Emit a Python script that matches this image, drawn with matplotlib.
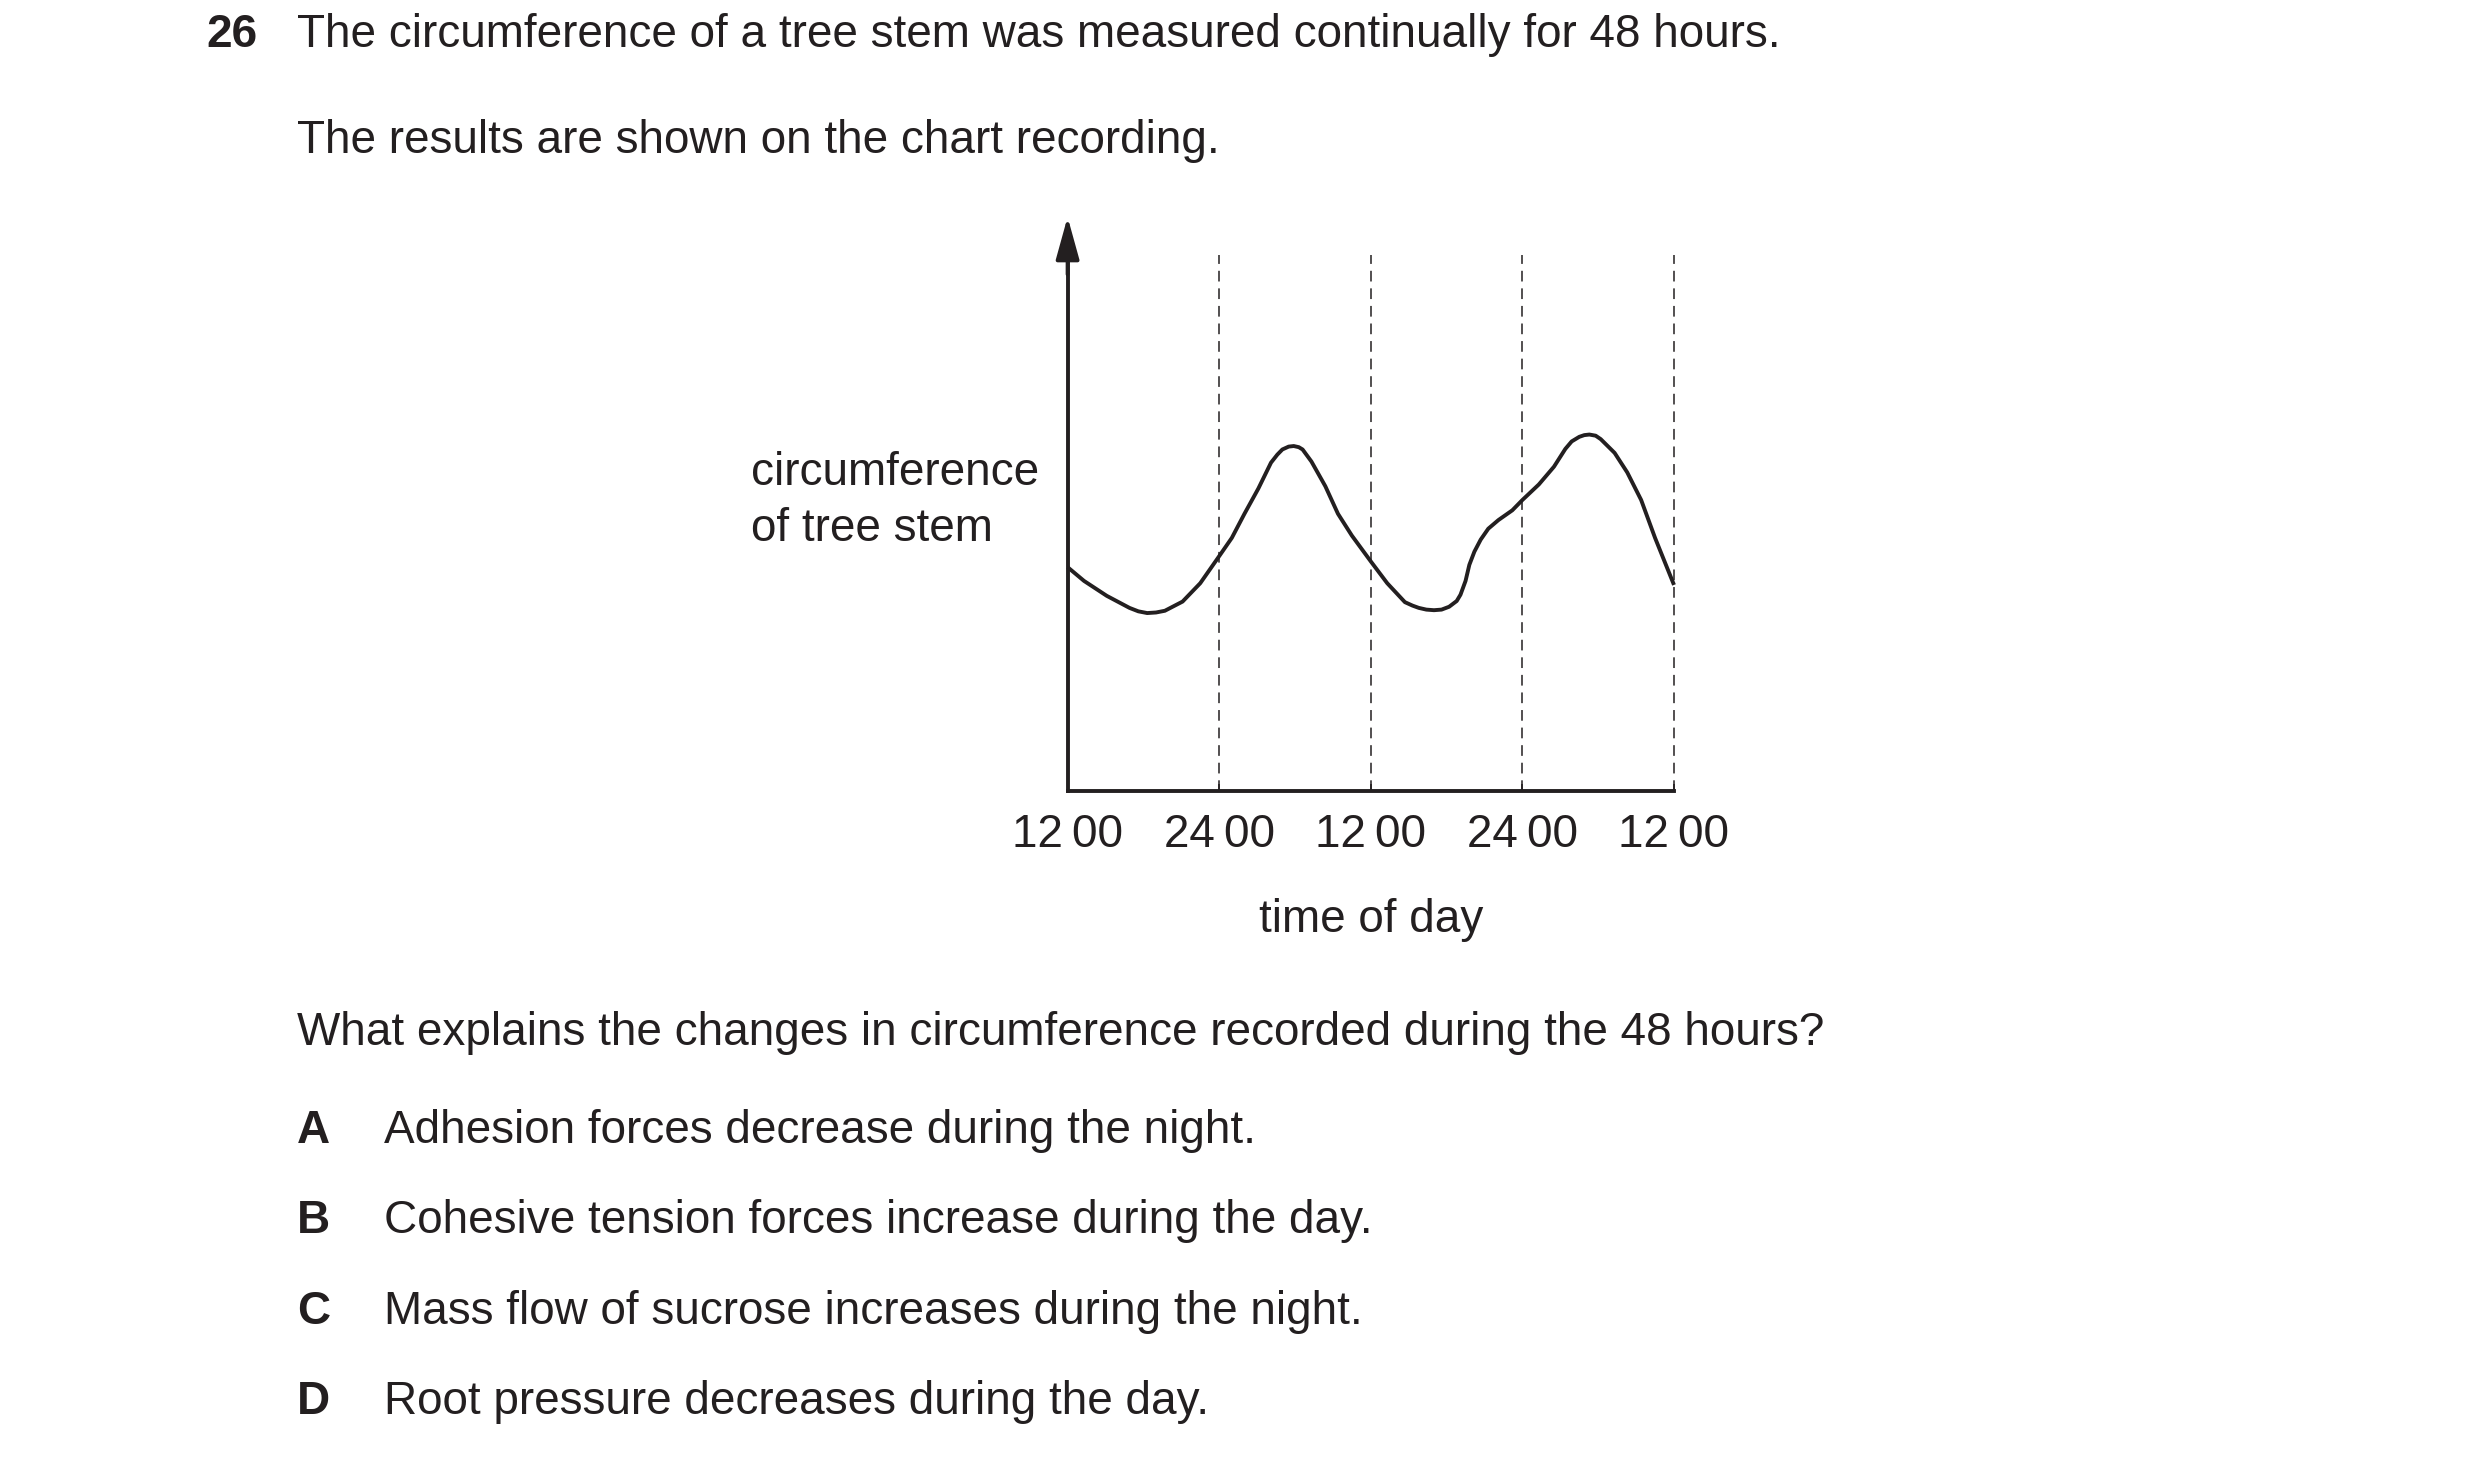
import matplotlib.pyplot as plt

plt.rcParams['font.family'] = ['Liberation Sans', 'DejaVu Sans']

W, H = 2480, 1461
INK = '#231f20'

# chart recording (hours from the first 12 00, arbitrary units)
hours = [0.0, 1.3, 3.1, 4.9, 5.6, 6.3, 7.0, 7.7, 9.1, 10.5, 11.9, 13.0, 14.0,
         15.1, 16.1, 16.6, 17.0, 17.5, 17.9, 18.3, 18.6, 19.3, 20.4, 21.4, 22.5,
         24.0, 25.3, 26.7, 27.3, 27.8, 28.4, 29.0, 29.6, 30.2, 30.8, 31.1, 31.3,
         31.5, 31.8, 32.2, 32.7, 33.3, 34.1, 35.2, 36.0, 37.3, 38.5, 39.4, 39.9,
         40.5, 40.9, 41.3, 41.8, 42.2, 43.3, 44.3, 45.4, 46.5, 48.0]
circumference = [39.0, 36.6, 34.0, 31.9, 31.3, 31.0, 31.1, 31.4, 33.0, 36.2,
                 40.6, 44.1, 48.3, 52.7, 57.2, 58.6, 59.5, 60.0, 60.1, 59.9,
                 59.5, 57.4, 53.1, 48.3, 44.5, 40.0, 36.2, 32.9, 32.3, 31.9,
                 31.6, 31.5, 31.6, 32.1, 33.1, 34.2, 35.4, 36.6, 39.4, 41.7,
                 43.8, 45.7, 47.2, 48.9, 50.7, 53.4, 56.5, 59.6, 60.9, 61.7,
                 62.0, 62.1, 61.9, 61.3, 58.9, 55.5, 50.7, 44.1, 35.9]

tick_hours = [0, 12, 24, 36, 48]
tick_labels = ['12\u200900', '24\u200900', '12\u200900', '24\u200900', '12\u200900']
midnight_noon = [12, 24, 36, 48]

question = 'The circumference of a tree stem was measured continually for 48 hours.'
intro = 'The results are shown on the chart recording.'
ask = 'What explains the changes in circumference recorded during the 48 hours?'
letters = ['A', 'B', 'C', 'D']
options = ['Adhesion forces decrease during the night.',
           'Cohesive tension forces increase during the day.',
           'Mass flow of sucrose increases during the night.',
           'Root pressure decreases during the day.']


def put(x, y, s, **kw):
    # place text by pixel position of its baseline start
    kw.setdefault('fontsize', 33)
    kw.setdefault('color', INK)
    kw.setdefault('va', 'baseline')
    fig.text(x / W, 1 - y / H, s, **kw)


fig = plt.figure(figsize=(W / 100, H / 100), dpi=100)

# axes box: left edge is the y axis, bottom edge is the x axis
left, right, bottom, top = 1067.6, 1674.0, 791.0, 217.0
ax = fig.add_axes([left / W, 1 - bottom / H, (right - left) / W, (bottom - top) / H])
ax.set_xlim(0, 48)
ax.set_ylim(0, 100)

for side in ['top', 'right']:
    ax.spines[side].set_visible(False)
ax.spines['bottom'].set_linewidth(2.8)
ax.spines['left'].set_linewidth(2.8)
ax.spines['bottom'].set_color(INK)
ax.spines['left'].set_color(INK)
ax.spines['left'].set_bounds(0, 95)
ax.annotate('', xy=(0, 1), xycoords='axes fraction', xytext=(0, 0.9),
            arrowprops=dict(arrowstyle='-|>,head_length=1.3,head_width=0.36',
                            mutation_scale=20, lw=2.8, color=INK,
                            shrinkA=0, shrinkB=0))

ax.set_yticks([])
ax.set_xticks(tick_hours, tick_labels, fontsize=33, color=INK)
ax.tick_params(axis='x', direction='in', length=5, width=1.2, color=INK, pad=16)

ax.vlines(midnight_noon, 0, 93.3, colors=INK, linewidth=1.1,
          linestyles=(0, (7, 4.5)), clip_on=False)
ax.plot(hours, circumference, color=INK, linewidth=2.8,
        solid_joinstyle='round', solid_capstyle='butt', clip_on=False)

# y label, x label
put(751, 485, 'circumference', fontsize=33)
put(751, 541, 'of tree stem', fontsize=33)
put(1371, 932, 'time of day', fontsize=33, ha='center')

# question text
put(206, 47, '26', fontweight='bold')
put(297, 47, question)
put(297, 153, intro)
put(297, 1045, ask)
for i, (letter, text) in enumerate(zip(letters, options)):
    y = 1143 + i * 90.3
    put(297, y, letter, fontweight='bold')
    put(384, y, text)

fig.savefig('out.png', dpi=100, facecolor='white')
